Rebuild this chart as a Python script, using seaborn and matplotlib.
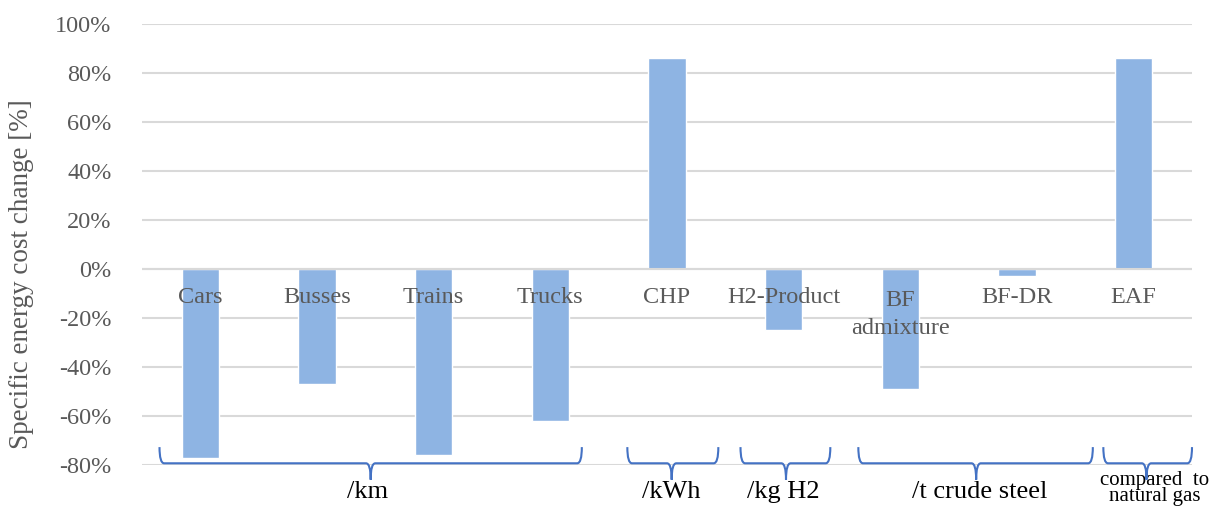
import matplotlib
matplotlib.use("Agg")
import matplotlib.pyplot as plt
from matplotlib.path import Path
from matplotlib.patches import PathPatch
import seaborn as sns
import pandas as pd

categories = ["Cars", "Busses", "Trains", "Trucks", "CHP", "H2-Product", "BF\nadmixture", "BF-DR", "EAF"]
values = [-77, -47, -76, -62, 86, -25, -49, -3, 86]
yticks = [-80, -60, -40, -20, 0, 20, 40, 60, 80, 100]
group_labels = ["/km", "/kWh", "/kg H2", "/t crude steel", "compared  to\nnatural gas"]
group_first = [0, 4, 5, 6, 8]
group_last = [3, 4, 5, 7, 8]

# layout (brace spans in category units relative to first/last)
brace_left = [-0.35, -0.34, -0.37, -0.36, -0.26]
brace_right = [0.27, 0.44, 0.40, 0.65, 0.50]
brace_mid = [1.46, 4.04, 5.02, 6.65, 8.11]
label_x = [1.43, 4.04, 5.0, 6.68, 8.18]

sns.set_theme(style="white")
plt.rcParams["font.family"] = ["Liberation Serif", "DejaVu Serif"]

df = pd.DataFrame({"cat": categories, "val": values})

fig = plt.figure(figsize=(12.17, 5.08), dpi=100)
ax = fig.add_axes([142 / 1217, 1 - 465 / 508, (1192 - 142) / 1217, (465 - 24) / 508])

sns.barplot(data=df, x="cat", y="val", color="#8EB4E3", width=0.32, ax=ax,
            saturation=1, zorder=2)

ax.set_ylim(-80, 100)
ax.set_xlim(-0.5, len(categories) - 0.5)
ax.set_yticks(yticks)
ax.set_yticklabels([f"{t}%" for t in yticks], fontsize=17.5, color="#595959")
ax.tick_params(axis="y", length=0, pad=22)
ax.set_xticks([])
ax.set_xlabel("")
ax.set_ylabel("")
for s in ax.spines.values():
    s.set_visible(False)
ax.grid(axis="y", color="#D9D9D9", linewidth=1.5, zorder=0)
ax.set_axisbelow(True)
ax.axhline(0, color="#D9D9D9", linewidth=1.5, zorder=3)

for i, c in enumerate(categories):
    if "\n" in c:
        ax.text(i, -8.5, c, ha="center", va="top", fontsize=17.5, color="#595959",
                linespacing=1.45, zorder=4)
    else:
        ax.text(i, -11.8, c, ha="center", va="center", fontsize=17.5,
                color="#595959", zorder=4)

# braces
y_top, y_h, y_bot = -72.7, -79.3, -86.0
r = 0.04
for k in range(len(group_labels)):
    x0 = group_first[k] + brace_left[k]
    x1 = group_last[k] + brace_right[k]
    xm = brace_mid[k]
    verts = [
        (x0, y_top), (x0, y_h), (x0 + r, y_h),
        (xm - r, y_h), (xm, y_h), (xm, y_bot),
        (xm, y_h), (xm + r, y_h),
        (x1 - r, y_h), (x1, y_h), (x1, y_top),
    ]
    codes = [Path.MOVETO, Path.CURVE3, Path.CURVE3,
             Path.LINETO, Path.CURVE3, Path.CURVE3,
             Path.CURVE3, Path.CURVE3,
             Path.LINETO, Path.CURVE3, Path.CURVE3]
    patch = PathPatch(Path(verts, codes), facecolor="none", edgecolor="#4472C4",
                      linewidth=1.5, clip_on=False, zorder=5)
    ax.add_patch(patch)
    if "\n" in group_labels[k]:
        ax.text(label_x[k], -82.3, group_labels[k], ha="center", va="top",
                fontsize=15, color="black", linespacing=0.82, clip_on=False)
    else:
        ax.text(label_x[k], -91, group_labels[k], ha="center", va="center",
                fontsize=19, color="black", clip_on=False)

fig.text(22 / 1217, 1 - 274 / 508, "Specific energy cost change [%]", rotation=90,
         ha="center", va="center", fontsize=19.5, color="#595959")

fig.savefig("out.png", dpi=100)
